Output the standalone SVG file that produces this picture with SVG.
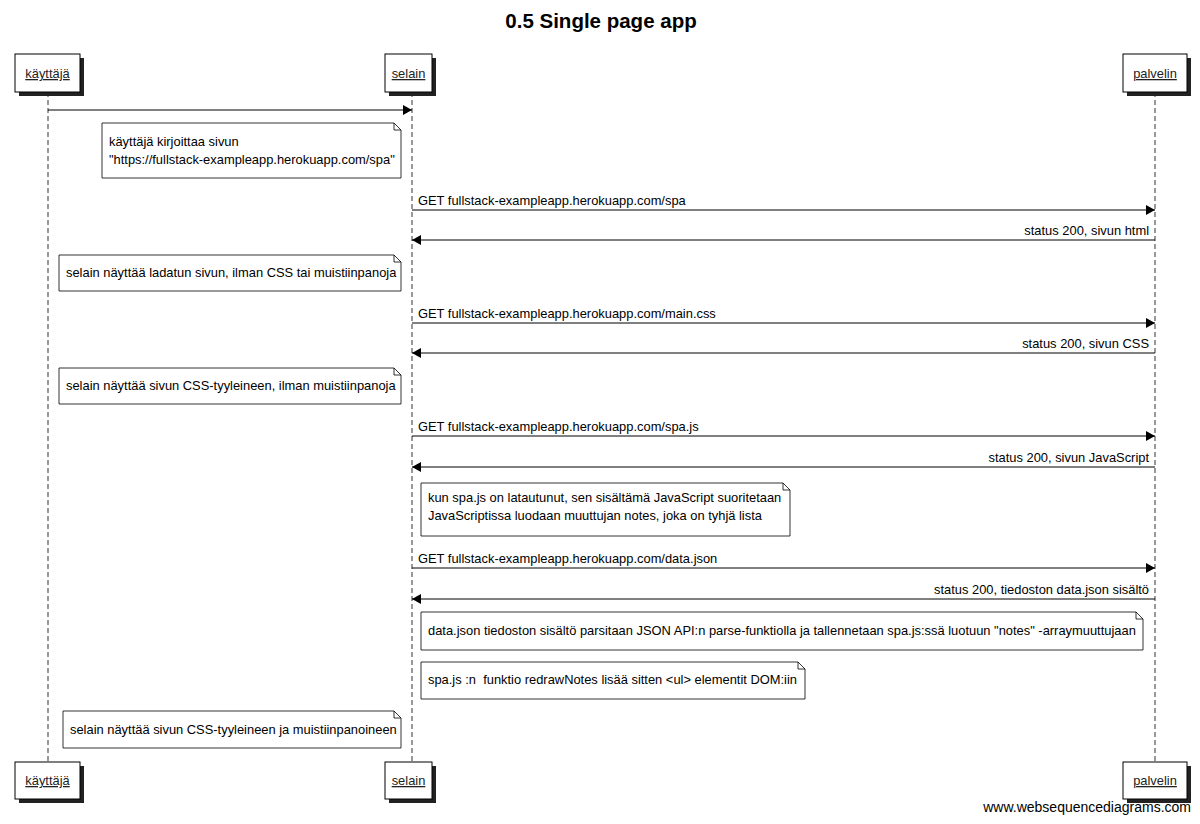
<svg xmlns="http://www.w3.org/2000/svg" width="1200" height="824" viewBox="0 0 1200 824">
<defs>
<style>
text{font-family:"Liberation Sans",Arial,sans-serif;font-size:12.9px;fill:#000}
.title{font-size:20.5px;font-weight:bold}
.life{stroke:#555;stroke-width:1.2;stroke-dasharray:5,3;fill:none}
.box{fill:#fff;stroke:#000;stroke-width:1}
.shadow{fill:#222}
.msg{stroke:#000;stroke-width:1;fill:none}
.note{fill:#fff;stroke:#000;stroke-width:0.8}
.pt{text-decoration:underline;fill:#222}
.wm{font-size:14px}
</style>
<marker id="ah" markerWidth="10" markerHeight="10" refX="9" refY="5" orient="auto" markerUnits="userSpaceOnUse">
<path d="M0,0 L9,5 L0,10 z" fill="#000"/>
</marker>
</defs>
<rect width="1200" height="824" fill="#fff"/>
<text class="title" x="601" y="28" text-anchor="middle">0.5 Single page app</text>

<g id="lifelines">
<line class="life" x1="48" y1="92" x2="48" y2="762"/>
<line class="life" x1="412" y1="92" x2="412" y2="762"/>
<line class="life" x1="1155" y1="92" x2="1155" y2="762"/>
</g>

<g id="kayttaja">
<rect class="shadow" x="19" y="58" width="65" height="38"/>
<rect class="box" x="15" y="54" width="65" height="38"/>
<text class="pt" x="47.5" y="78" text-anchor="middle">käyttäjä</text>
<rect class="shadow" x="19" y="766" width="65" height="37"/>
<rect class="box" x="15" y="762" width="65" height="37"/>
<text class="pt" x="47.5" y="785" text-anchor="middle">käyttäjä</text>
</g>
<g id="selain">
<rect class="shadow" x="389" y="58" width="47" height="38"/>
<rect class="box" x="385" y="54" width="47" height="38"/>
<text class="pt" x="408.5" y="78" text-anchor="middle">selain</text>
<rect class="shadow" x="389" y="766" width="47" height="37"/>
<rect class="box" x="385" y="762" width="47" height="37"/>
<text class="pt" x="408.5" y="785" text-anchor="middle">selain</text>
</g>
<g id="palvelin">
<rect class="shadow" x="1127" y="58" width="64" height="38"/>
<rect class="box" x="1123" y="54" width="64" height="38"/>
<text class="pt" x="1155" y="78" text-anchor="middle">palvelin</text>
<rect class="shadow" x="1127" y="766" width="64" height="37"/>
<rect class="box" x="1123" y="762" width="64" height="37"/>
<text class="pt" x="1155" y="785" text-anchor="middle">palvelin</text>
</g>

<g id="connectors">
<line class="msg" x1="48" y1="110" x2="412" y2="110" marker-end="url(#ah)"/>
<line class="msg" x1="412" y1="210" x2="1155" y2="210" marker-end="url(#ah)"/>
<text x="418" y="205">GET fullstack-exampleapp.herokuapp.com/spa</text>
<line class="msg" x1="1155" y1="240" x2="412" y2="240" marker-end="url(#ah)"/>
<text x="1149" y="235" text-anchor="end">status 200, sivun html</text>
<line class="msg" x1="412" y1="323" x2="1155" y2="323" marker-end="url(#ah)"/>
<text x="418" y="318">GET fullstack-exampleapp.herokuapp.com/main.css</text>
<line class="msg" x1="1155" y1="353" x2="412" y2="353" marker-end="url(#ah)"/>
<text x="1149" y="348" text-anchor="end">status 200, sivun CSS</text>
<line class="msg" x1="412" y1="436" x2="1155" y2="436" marker-end="url(#ah)"/>
<text x="418" y="431">GET fullstack-exampleapp.herokuapp.com/spa.js</text>
<line class="msg" x1="1155" y1="467" x2="412" y2="467" marker-end="url(#ah)"/>
<text x="1149" y="462" text-anchor="end">status 200, sivun JavaScript</text>
<line class="msg" x1="412" y1="568" x2="1155" y2="568" marker-end="url(#ah)"/>
<text x="418" y="563">GET fullstack-exampleapp.herokuapp.com/data.json</text>
<line class="msg" x1="1155" y1="599" x2="412" y2="599" marker-end="url(#ah)"/>
<text x="1149" y="594" text-anchor="end">status 200, tiedoston data.json sisältö</text>
</g>

<g id="note1">
<path class="note" d="M102,123 H394 L401,130 V178 H102 Z M394,123 V130 H401"/>
<text x="109" y="146">käyttäjä kirjoittaa sivun</text>
<text x="109" y="164">"https://fullstack-exampleapp.herokuapp.com/spa"</text>
</g>
<g id="note2">
<path class="note" d="M59,255 H394 L401,262 V291 H59 Z M394,255 V262 H401"/>
<text x="66" y="277">selain näyttää ladatun sivun, ilman CSS tai muistiinpanoja</text>
</g>
<g id="note3">
<path class="note" d="M59,368 H394 L401,375 V404 H59 Z M394,368 V375 H401"/>
<text x="66" y="390">selain näyttää sivun CSS-tyyleineen, ilman muistiinpanoja</text>
</g>
<g id="note4">
<path class="note" d="M421,483 H783 L790,490 V536 H421 Z M783,483 V490 H790"/>
<text x="428" y="502">kun spa.js on latautunut, sen sisältämä JavaScript suoritetaan</text>
<text x="428" y="520">JavaScriptissa luodaan muuttujan notes, joka on tyhjä lista</text>
</g>
<g id="note5">
<path class="note" d="M421,612 H1136 L1143,619 V650 H421 Z M1136,612 V619 H1143"/>
<text x="428" y="635">data.json tiedoston sisältö parsitaan JSON API:n parse-funktiolla ja tallennetaan spa.js:ssä luotuun "notes" -arraymuuttujaan</text>
</g>
<g id="note6">
<path class="note" d="M421,662 H798 L805,669 V699 H421 Z M798,662 V669 H805"/>
<text x="428" y="684" xml:space="preserve" style="white-space:pre">spa.js :n  funktio redrawNotes lisää sitten &lt;ul&gt; elementit DOM:iin</text>
</g>
<g id="note7">
<path class="note" d="M63,711 H394 L401,718 V748 H63 Z M394,711 V718 H401"/>
<text x="70" y="734">selain näyttää sivun CSS-tyyleineen ja muistiinpanoineen</text>
</g>

<text class="wm" x="1191" y="812" text-anchor="end">www.websequencediagrams.com</text>
</svg>
